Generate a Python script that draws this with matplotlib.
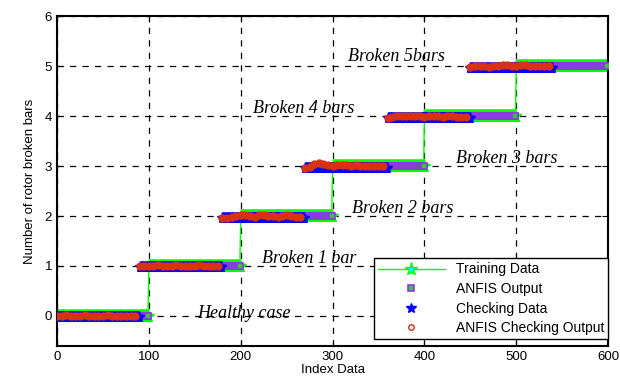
import numpy as np
import matplotlib
matplotlib.use("Agg")
import matplotlib.pyplot as plt

plt.rcParams['font.family'] = ['Liberation Sans', 'DejaVu Sans']

# training data: one level per block of 100 samples
levels = [0, 1, 2, 3, 4, 5]
train_block = 100
# checking data: one level per block of 90 samples
chk_block = 90

# small offsets of the ANFIS output on the training data (per level)
anfis_off = [0.0, 0.0, 0.01, 0.01, 0.0, 0.0]

# ANFIS checking output, read every 5 samples of each block
chk_out = [
    [0.00, 0.00, 0.01, 0.00, 0.00, 0.00, 0.01, 0.00, 0.00, 0.00, 0.00, 0.01, 0.00, 0.00, 0.00, 0.00, 0.00, 0.00],
    [0.99, 1.00, 1.00, 0.99, 1.01, 1.00, 0.99, 1.00, 1.01, 1.00, 0.99, 1.00, 1.00, 1.01, 1.00, 0.99, 1.00, 1.00],
    [1.96, 1.97, 1.98, 2.01, 2.03, 2.02, 2.00, 1.99, 2.03, 2.02, 2.00, 2.01, 1.99, 2.00, 2.02, 2.01, 1.99, 1.99],
    [2.96, 2.98, 3.04, 3.06, 3.04, 3.03, 3.01, 3.02, 3.03, 3.02, 3.01, 3.02, 3.01, 3.00, 3.01, 3.00, 3.00, 3.01],
    [3.97, 3.99, 4.00, 4.01, 4.00, 4.00, 4.01, 4.00, 3.99, 4.00, 4.00, 4.00, 3.99, 4.00, 4.00, 3.99, 3.99, 3.98],
    [4.99, 5.00, 5.00, 5.01, 4.99, 5.00, 5.00, 5.02, 5.02, 5.01, 5.00, 5.03, 5.02, 5.01, 5.00, 5.01, 5.00, 5.00],
]
chk_step = 5

notes = ['Healthy case', 'Broken 1 bar', 'Broken 2 bars', 'Broken 3 bars', 'Broken 4 bars', 'Broken 5bars']
note_x = [153, 223, 321, 434, 213, 317]
note_y = [-0.12, 0.98, 1.98, 2.98, 3.98, 5.02]

x_tr = np.arange(len(levels) * train_block)
y_tr = np.repeat(levels, train_block).astype(float)
y_an = y_tr + np.repeat(anfis_off, train_block)
x_ck = np.arange(len(levels) * chk_block)
y_ck = np.repeat(levels, chk_block).astype(float)
x_co = np.concatenate([i * chk_block + np.arange(len(v)) * chk_step for i, v in enumerate(chk_out)])
y_co = np.concatenate(chk_out)

fig = plt.figure(figsize=(6.2, 3.76), dpi=100)
ax = fig.add_axes([0.092, 0.080, 0.889, 0.877])

ax.plot(x_tr, y_tr, '-', color='#00ff00', lw=1.0, marker='*', ms=9.5,
        mfc='#00ffff', mec='#00ff00', mew=1.0, label='Training Data', zorder=2)
ax.plot(x_tr, y_an, ls='none', marker='s', ms=4, mfc='#44bb44', mec='#8a3be0',
        mew=1.2, label='ANFIS Output', zorder=3)
ax.plot(x_ck, y_ck - 0.03, ls='none', marker='*', ms=8, mfc='#0000ff', mec='#0000ff',
        label='Checking Data', zorder=4)
ax.plot(x_co, y_co, ls='none', marker='o', ms=5, mfc='#d83212', mec='#d83212',
        mew=1.0, label='ANFIS Checking Output', zorder=5)

for t, xx, yy in zip(notes, note_x, note_y):
    ax.text(xx, yy, t, family='Liberation Serif', style='italic', fontsize=13,
            va='bottom', ha='left', zorder=6)

ax.set_xlim(0, 600)
ax.set_ylim(-0.6, 6)
ax.set_xticks(range(0, 601, 100))
ax.set_yticks(range(0, 7))
ax.grid(True, color='k', ls=(0, (5, 5)), lw=0.9)
ax.tick_params(direction='in', top=True, right=True, labelsize=9.5, length=4)
for s in ax.spines.values():
    s.set_linewidth(1.5)
ax.set_xlabel('Index Data', fontsize=9.5, labelpad=1)
ax.set_ylabel('Number of rotor broken bars', fontsize=9.5, labelpad=6)

leg = ax.legend(loc='lower right', bbox_to_anchor=(1.0, 0.02), borderaxespad=0,
                fontsize=10, fancybox=False, framealpha=1, edgecolor='k',
                handlelength=4.8, labelspacing=0.4, borderpad=0.3)
leg.get_frame().set_linewidth(1.0)
leg.set_zorder(10)
h = leg.legend_handles
h[3].set_markerfacecolor('none')
h[3].set_markersize(4)
h[2].set_markersize(7)

fig.savefig('out.png', dpi=100)
